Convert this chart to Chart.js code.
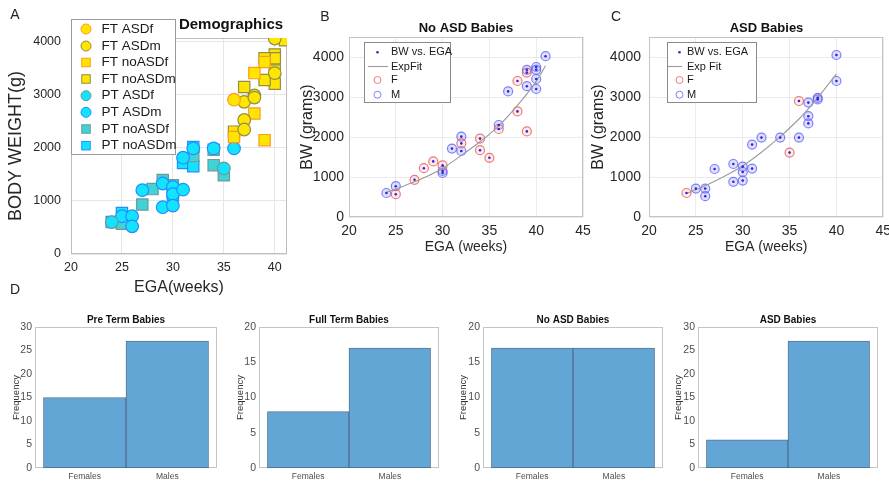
<!DOCTYPE html>
<html><head><meta charset="utf-8">
<script src="https://cdn.jsdelivr.net/npm/chart.js@4.4.0/dist/chart.umd.min.js"></script>
<style>
html,body{margin:0;padding:0;background:#fff;width:889px;height:483px;overflow:hidden}
canvas{position:absolute;left:0;top:0}
</style></head><body>
<canvas id="cA" width="889" height="483"></canvas>
<canvas id="cB" width="889" height="483"></canvas>
<canvas id="cC" width="889" height="483"></canvas>
<canvas id="cD1" width="889" height="483"></canvas>
<canvas id="cD2" width="889" height="483"></canvas>
<canvas id="cD3" width="889" height="483"></canvas>
<canvas id="cD4" width="889" height="483"></canvas>
<script>
// ---------- DATA (EGA weeks, body weight grams) ----------
const ftASDf   = [[36,2900]];
const ftASDm   = [[37,2860],[37,2520],[37,2340],[38,2980],[38,2940],[40,4050],[40,3400]];
const ftNoASDf = [[38,3400],[39,3610],[38,2640],[39,2140],[36,2200]];
const ftNoASDm = [[41,4020],[40,3750],[40,3680],[40,3450],[40,3200],[39,3680],[39,3270],[37,3140],[36,2300]];
const ptASDf   = [[24,600],[35,1610]];
const ptASDm   = [[25,710],[26,710],[26,520],[27,1200],[29,1325],[29,880],[30,1260],[30,1125],[30,910],[31,1810],[31,1210],[32,1985],[34,1985],[36,1985]];
const ptNoASDf = [[25,570],[27,930],[28,1220],[29,1390],[30,1290],[32,1840],[34,1960],[34,1670],[35,1480]];
const ptNoASDm = [[24,600],[25,770],[30,1150],[30,1100],[31,1710],[32,2010],[32,1650]];

const fitNoASDWeeks = [24,26,28,30,32,34,36,38,40,41];
const fitNoASD      = [620,790,980,1220,1540,1880,2280,2790,3390,3780];
const fitASDWeeks   = [24,26,28,30,32,34,36,38,40];
const fitASD        = [590,780,1010,1280,1620,2010,2450,2980,3580];

const histCats = ['Females','Males'];
const preTerm  = [15,27];
const fullTerm = [8,17];
const noASDHist= [17,17];
const asdHist  = [6,27];

const ticksA_x = [20,25,30,35,40];
const ticksA_y = [0,1000,2000,3000,4000];
const ticksBC_x = [20,25,30,35,40,45];
const ticksBC_y = [0,1000,2000,3000,4000];
const ticks30 = [0,5,10,15,20,25,30];
const ticks20 = [0,5,10,15,20];

// ---------- helpers ----------
const FONT = '"Liberation Sans", Arial, Helvetica, sans-serif';
const W = 889, H = 483;
const pts = arr => arr.map(([x,y]) => ({x, y}));
const zip = (xs, ys) => xs.map((x,i) => ({x, y: ys[i]}));

function layout(L,R,T,B,yW,xH){ return {padding:{left:L-yW, right:W-R, top:T, bottom:H-B-xH}}; }
function fixFit(pos, size){
  return s => {
    if (pos === 'left') s.width = size; else s.height = size;
    s.paddingTop = 0; s.paddingBottom = 0; s.paddingLeft = 0; s.paddingRight = 0;
  };
}

function scale(pos, min, max, ticks, size, o){
  return {
    type:'linear', position:pos, min:min, max:max,
    afterBuildTicks: s => { s.ticks = ticks.map(v => ({value:v})); },
    afterFit: fixFit(pos, size),
    grid: { display: o.grid !== false, color: o.gridColor || '#e6e6e6', lineWidth:1, drawTicks:false },
    border: { display:false },
    ticks: { padding:o.tickPad, color:o.tickColor || '#262626', font:{family:FONT, size:o.tickSize},
             maxRotation:0, autoSkip:false, callback: o.cb || (v => String(v)) },
    title: { display:true, text:o.title, color:o.titleColor || '#262626',
             font:{family:FONT, size:o.titleSize}, padding:{top:0, bottom:0} }
  };
}

function framePlugin(color, marginFrac){
  return { id:'frame', beforeDatasetsDraw(ch){
    const a = ch.chartArea, c = ch.ctx;
    const m = (a.right - a.left) * (marginFrac || 0);
    const l = Math.round(a.left - m), r = Math.round(a.right + m);
    c.save(); c.strokeStyle = color; c.lineWidth = 1;
    c.strokeRect(l+0.5, Math.round(a.top)+0.5, r-l-1, Math.round(a.bottom-a.top)-1);
    c.restore();
  }};
}
function textPlugin(items){
  return { id:'texts', afterDraw(ch){
    const c = ch.ctx; c.save();
    items.forEach(t => {
      c.font = t.font; c.fillStyle = t.color || '#222';
      c.textAlign = t.align || 'center'; c.textBaseline = 'middle';
      c.fillText(t.t, t.x, t.y);
    });
    c.restore();
  }};
}
function drawMarker(c, m, x, y){
  c.save();
  if (m.type === 'line'){
    c.strokeStyle = m.stroke; c.lineWidth = m.lw || 1;
    c.beginPath(); c.moveTo(m.x1, y); c.lineTo(m.x2, y); c.stroke();
  } else if (m.type === 'rect'){
    c.fillStyle = m.fill; c.strokeStyle = m.stroke; c.lineWidth = m.lw || 1;
    c.fillRect(x-m.s/2, y-m.s/2, m.s, m.s); c.strokeRect(x-m.s/2, y-m.s/2, m.s, m.s);
  } else {
    c.beginPath(); c.arc(x, y, m.r, 0, Math.PI*2);
    if (m.fill){ c.fillStyle = m.fill; c.fill(); }
    if (m.stroke){ c.strokeStyle = m.stroke; c.lineWidth = m.lw || 1; c.stroke(); }
  }
  c.restore();
}
function legendPlugin(box, items, font){
  return { id:'boxlegend', afterDraw(ch){
    const c = ch.ctx; c.save();
    c.fillStyle = '#fff'; c.fillRect(box.x, box.y, box.w, box.h);
    c.strokeStyle = box.stroke; c.lineWidth = 1;
    c.strokeRect(box.x+0.5, box.y+0.5, box.w, box.h);
    items.forEach(it => {
      drawMarker(c, it.m, box.mx, it.y);
      c.font = font; c.fillStyle = '#1a1a1a'; c.textAlign = 'left'; c.textBaseline = 'middle';
      c.fillText(it.label, box.tx, it.y);
    });
    c.restore();
  }};
}

// ---------- Panel A ----------
const YEL = '#ffe500', ORG = '#ff9a1f', OLV = '#8f8f45';
const CYN = '#14e3ff', BLU = '#1f8fff', TEAL = '#3fd3d6', GRYT = '#6f9999';
const aStyles = [
  {label:'FT ASDf',   d:ftASDf,   ps:'circle', fill:YEL, stroke:ORG},
  {label:'FT ASDm',   d:ftASDm,   ps:'circle', fill:YEL, stroke:OLV},
  {label:'FT noASDf', d:ftNoASDf, ps:'rect',   fill:YEL, stroke:ORG},
  {label:'FT noASDm', d:ftNoASDm, ps:'rect',   fill:YEL, stroke:OLV},
  {label:'PT ASDf',   d:ptASDf,   ps:'circle', fill:CYN, stroke:GRYT},
  {label:'PT ASDm',   d:ptASDm,   ps:'circle', fill:CYN, stroke:BLU},
  {label:'PT noASDf', d:ptNoASDf, ps:'rect',   fill:TEAL, stroke:GRYT},
  {label:'PT noASDm', d:ptNoASDm, ps:'rect',   fill:CYN, stroke:BLU}
];
const legAY = [29, 46, 62.5, 79, 95.7, 112.3, 129, 145.7];
new Chart(document.getElementById('cA'), {
  type:'scatter',
  data:{ datasets: aStyles.map((s,i) => ({
    label:s.label, data:pts(s.d), pointStyle:s.ps,
    pointRadius: s.ps === 'rect' ? 8 : 6.3, pointHoverRadius: s.ps === 'rect' ? 8 : 6.3,
    backgroundColor:s.fill, borderColor:s.stroke, borderWidth:1.2, order: i
  }))},
  options:{
    responsive:false, animation:false, devicePixelRatio:1,
    layout: layout(71, 287, 38, 254, 65.8, 43.6),
    plugins:{ legend:{display:false}, tooltip:{enabled:false} },
    scales:{
      x: scale('bottom', 20, 41.2, ticksA_x, 43.6, {tickPad:6, tickSize:12.5, title:'EGA(weeks)', titleSize:16}),
      y: scale('left', 0, 4060, ticksA_y, 65.8, {tickPad:10, tickSize:12.5, title:'BODY WEIGHT(g)', titleSize:18})
    }
  },
  plugins:[ framePlugin('#bdbdbd'),
    textPlugin([
      {t:'Demographics', x:231, y:25, font:'bold 15px '+FONT, color:'#111'},
      {t:'A', x:15, y:15, font:'14px '+FONT, color:'#222'}
    ]),
    legendPlugin({x:71, y:19, w:104, h:135, mx:86, tx:101.5, stroke:'#9a9a9a'},
      aStyles.map((s,i) => ({label:s.label, y:legAY[i],
        m: s.ps === 'rect' ? {type:'rect', s:8.5, fill:s.fill, stroke:s.stroke}
                           : {type:'circle', r:5, fill:s.fill, stroke:s.stroke}})),
      '13.5px '+FONT)
  ]
});

// ---------- Panels B, C ----------
const RED_F = 'rgba(255,160,160,0.22)', RED_S = 'rgba(232,80,80,0.75)';
const BLU_F = 'rgba(150,150,255,0.30)', BLU_S = 'rgba(90,90,245,0.75)';
const DOT = '#2b2bd0';
function scatterBC(id, L, R, yW, tickPadY, F, M, fitX, fitY, fitLabel, title, letter, legBox, legMX, legTX, lineX){
  const all = F.concat(M);
  new Chart(document.getElementById(id), {
    type:'scatter',
    data:{ datasets:[
      {label:'BW vs. EGA', data:pts(all), pointRadius:1.3, pointHoverRadius:1.3, backgroundColor:DOT, borderWidth:0, order:0},
      {label:fitLabel, data:zip(fitX, fitY), showLine:true, pointRadius:0, borderColor:'#9b9b9b', borderWidth:1.1,
        tension:0.4, cubicInterpolationMode:'monotone', fill:false, order:1},
      {label:'F', data:pts(F), pointRadius:4.5, pointHoverRadius:4.5, backgroundColor:RED_F, borderColor:RED_S, borderWidth:1.2, order:2},
      {label:'M', data:pts(M), pointRadius:4.5, pointHoverRadius:4.5, backgroundColor:BLU_F, borderColor:BLU_S, borderWidth:1.2, order:3}
    ]},
    options:{
      responsive:false, animation:false, devicePixelRatio:1,
      layout: layout(L, R, 37, 217, yW, 38.4),
      plugins:{ legend:{display:false}, tooltip:{enabled:false} },
      scales:{
        x: scale('bottom', 20, 45, ticksBC_x, 38.4, {tickPad:6, tickSize:14, title:'EGA (weeks)', titleSize:14, gridColor:'#ebebeb'}),
        y: scale('left', 0, 4500, ticksBC_y, yW, {tickPad:tickPadY, tickSize:14, title:'BW (grams)', titleSize:16, gridColor:'#ebebeb'})
      }
    },
    plugins:[ framePlugin('#c4c4c4'),
      textPlugin([
        {t:title, x:(L+R)/2, y:28, font:'bold 13px '+FONT, color:'#111'},
        {t:letter.t, x:letter.x, y:17, font:'14px '+FONT, color:'#222'}
      ]),
      legendPlugin({x:legBox[0], y:42, w:legBox[1], h:60, mx:legMX, tx:legTX, stroke:'#8a8a8a'}, [
        {label:'BW vs. EGA', y:52.3, m:{type:'circle', r:1.3, fill:DOT}},
        {label:fitLabel, y:66.5, m:{type:'line', x1:lineX[0], x2:lineX[1], stroke:'#9b9b9b', lw:1.1}},
        {label:'F', y:80, m:{type:'circle', r:3.5, stroke:RED_S, lw:1}},
        {label:'M', y:94.7, m:{type:'circle', r:3.5, stroke:BLU_S, lw:1}}
      ], '11px '+FONT)
    ]
  });
}
scatterBC('cB', 349, 583, 50.6, 5, ftNoASDf.concat(ptNoASDf), ftNoASDm.concat(ptNoASDm),
  fitNoASDWeeks, fitNoASD, 'ExpFit', 'No ASD Babies', {t:'B', x:325}, [364, 86], 377.5, 391, [368, 388]);
scatterBC('cC', 649, 884, 59.6, 8, ftASDf.concat(ptASDf), ftASDm.concat(ptASDm),
  fitASDWeeks, fitASD, 'Exp Fit', 'ASD Babies', {t:'C', x:616}, [667, 89], 679.5, 687, [668, 682]);

// ---------- Panel D histograms ----------
// frame spans L..R; the two touching bars fill it except a 0.1-bin margin on each side
function hist(id, L, R, yW, vals, yMax, yTicks, title, extra){
  const m = (R - L) * 0.1 / 2.2;
  const cL = L + m, cR = R - m;
  new Chart(document.getElementById(id), {
    type:'bar',
    data:{ labels: histCats,
      datasets:[{ data: vals, backgroundColor:'#62a6d6',
        borderColor:'rgba(35,70,110,0.75)', borderWidth:1, borderSkipped:false,
        barPercentage:1, categoryPercentage:1 }]},
    options:{
      responsive:false, animation:false, devicePixelRatio:1,
      layout: layout(cL, cR, 327, 468, yW + m, 14),
      plugins:{ legend:{display:false}, tooltip:{enabled:false} },
      scales:{
        x: { type:'category', offset:true, afterFit: fixFit('bottom', 14),
             grid:{display:false, drawTicks:false}, border:{display:false},
             ticks:{padding:4, color:'#4d4d4d', font:{family:FONT, size:8.5}, maxRotation:0, autoSkip:false} },
        y: scale('left', 0, yMax, yTicks, yW + m, {grid:false, tickPad:3 + m, tickSize:10.5, tickColor:'#4d4d4d',
              title:'Frequency', titleSize:9.5, titleColor:'#333'})
      }
    },
    plugins:[ framePlugin('#c4c4c4', 0.1 / 2.0),
      textPlugin([{t:title, x:(L+R)/2, y:320, font:'bold 10px '+FONT, color:'#111'}].concat(extra || [])) ]
  });
}
hist('cD1', 35, 217, 24.7, preTerm, 30, ticks30, 'Pre Term Babies', [{t:'D', x:15, y:290, font:'14px '+FONT, color:'#222'}]);
hist('cD2', 259, 439, 24.7, fullTerm, 20, ticks20, 'Full Term Babies');
hist('cD3', 483, 663, 25.7, noASDHist, 20, ticks20, 'No ASD Babies');
hist('cD4', 698, 878, 25.7, asdHist, 30, ticks30, 'ASD Babies');
</script>
</body></html>
